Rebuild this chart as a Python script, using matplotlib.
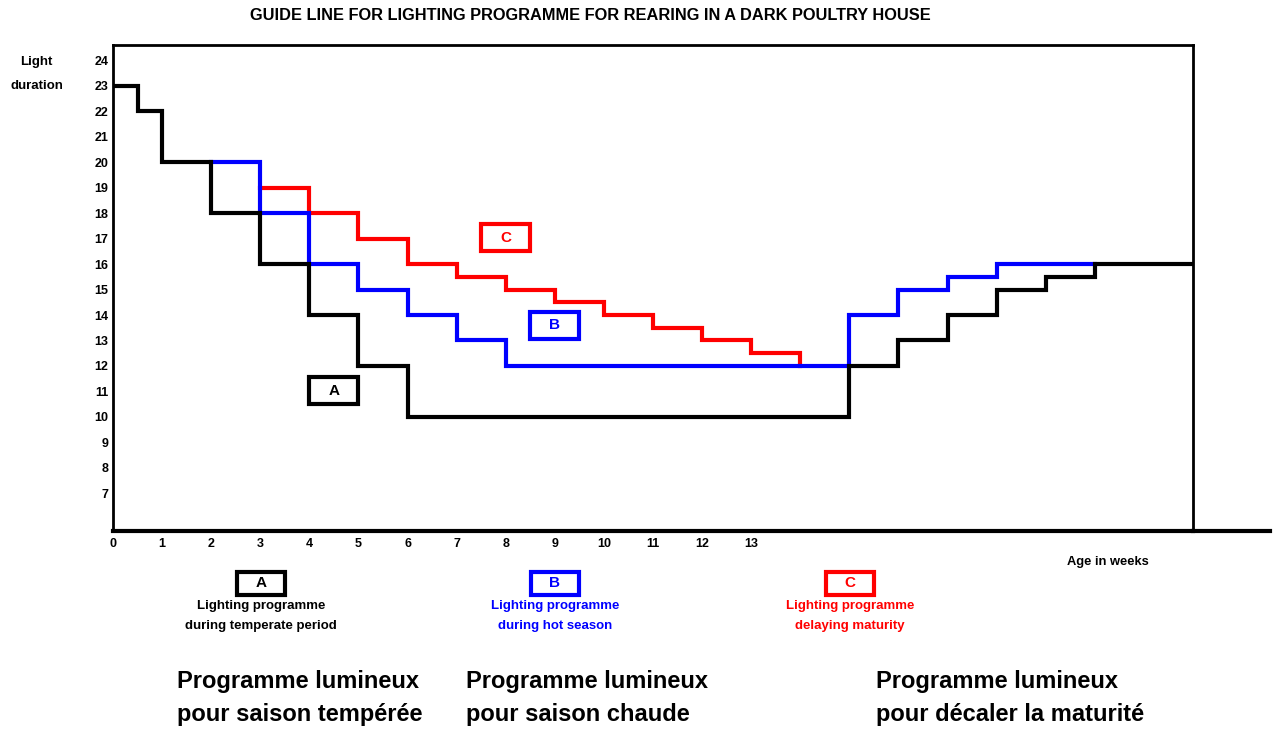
import matplotlib.pyplot as plt
from matplotlib.patches import Rectangle
from matplotlib.lines import Line2D

plt.rcParams['font.family'] = ['Liberation Sans', 'DejaVu Sans']
plt.rcParams['font.weight'] = 'bold'

# programme A - temperate period
a_weeks = [0, 0.5, 1, 2, 3, 4, 5, 6, 15, 16, 17, 18, 19, 20, 22]
a_hours = [23, 22, 20, 18, 16, 14, 12, 10, 12, 13, 14, 15, 15.5, 16, 16]

# programme B - hot season
b_weeks = [2, 3, 4, 5, 6, 7, 8, 15, 16, 17, 18, 20]
b_hours = [20, 18, 16, 15, 14, 13, 12, 14, 15, 15.5, 16, 16]

# programme C - delaying maturity
c_weeks = [3, 4, 5, 6, 7, 8, 9, 10, 11, 12, 13, 14, 14]
c_hours = [19, 18, 17, 16, 15.5, 15, 14.5, 14, 13.5, 13, 12.5, 12, 12]

y_ticks = list(range(7, 25))
x_ticks = list(range(0, 14))

colors = {'A': 'black', 'B': '#0000ff', 'C': '#ff0000'}
# label boxes inside the plot: (x, y) of lower-left corner in data units
box_pos = {'A': (4, 10.5), 'B': (8.5, 13.07), 'C': (7.5, 16.52)}

legend_lines = {
    'A': 'Lighting programme\nduring temperate period',
    'B': 'Lighting programme\nduring hot season',
    'C': 'Lighting programme\ndelaying maturity',
}
french = [
    'Programme lumineux\npour saison tempérée',
    'Programme lumineux\npour saison chaude',
    'Programme lumineux\npour décaler la maturité',
]

fig = plt.figure(figsize=(12.77, 7.29), dpi=100)
ax = fig.add_axes([113 / 1277, 1 - 531 / 729, 1080 / 1277, 486 / 729])

ax.step(c_weeks, c_hours, where='post', color=colors['C'], lw=3, solid_joinstyle='miter')
ax.step(b_weeks, b_hours, where='post', color=colors['B'], lw=3, solid_joinstyle='miter')
ax.step(a_weeks, a_hours, where='post', color=colors['A'], lw=3, solid_joinstyle='miter')

for key, (bx, by) in box_pos.items():
    ax.add_patch(Rectangle((bx, by), 1, 1.05, fill=False, ec=colors[key], lw=3))
    ax.text(bx + 0.5, by + 0.52, key, color=colors[key], ha='center', va='center',
            fontsize=11, fontweight='bold')

ax.set_xlim(0, 22)
ax.set_ylim(5.52, 24.6)
ax.set_xticks(x_ticks)
ax.set_yticks(y_ticks)
ax.tick_params(length=0, labelsize=9)
ax.tick_params(axis='x', pad=5)
ax.tick_params(axis='y', pad=3.5)
for lab in ax.get_xticklabels() + ax.get_yticklabels():
    lab.set_fontweight('bold')
for s in ['left', 'top', 'right']:
    ax.spines[s].set_linewidth(2)
ax.spines['bottom'].set_linewidth(3)

# x-axis continues past the frame
fig.add_artist(Line2D([1193 / 1277, 1270 / 1277], [1 - 531 / 729] * 2, color='black', lw=3))

fig.text(590 / 1277, 1 - 16 / 729, 'GUIDE LINE FOR LIGHTING PROGRAMME FOR REARING IN A DARK POULTRY HOUSE',
         ha='center', va='center', fontsize=11.8, fontweight='bold')
fig.text(36 / 1277, 1 - 62 / 729, 'Light', ha='center', va='center', fontsize=9.5, fontweight='bold')
fig.text(37 / 1277, 1 - 86 / 729, 'duration', ha='center', va='center', fontsize=9.5, fontweight='bold')
fig.text(1108 / 1277, 1 - 562 / 729, 'Age in weeks', ha='center', va='center', fontsize=9.3, fontweight='bold')

# legend under the chart
leg_x = {'A': 261, 'B': 555, 'C': 850}
for key, cx in leg_x.items():
    fig.add_artist(Rectangle(((cx - 24) / 1277, 1 - 595 / 729), 48 / 1277, 23 / 729,
                             fill=False, ec=colors[key], lw=3, transform=fig.transFigure))
    fig.text(cx / 1277, 1 - 583 / 729, key, color=colors[key], ha='center', va='center',
             fontsize=11, fontweight='bold')
    fig.text(cx / 1277, 1 - 616 / 729, legend_lines[key], color=colors[key], ha='center',
             va='center', fontsize=9.5, fontweight='bold', linespacing=1.95)

for fx, txt in zip([177, 466, 876], french):
    fig.text(fx / 1277, 1 - 698 / 729, txt, ha='left', va='center', fontsize=17,
             fontweight='bold', linespacing=1.6)

fig.savefig('out.png', dpi=100)
